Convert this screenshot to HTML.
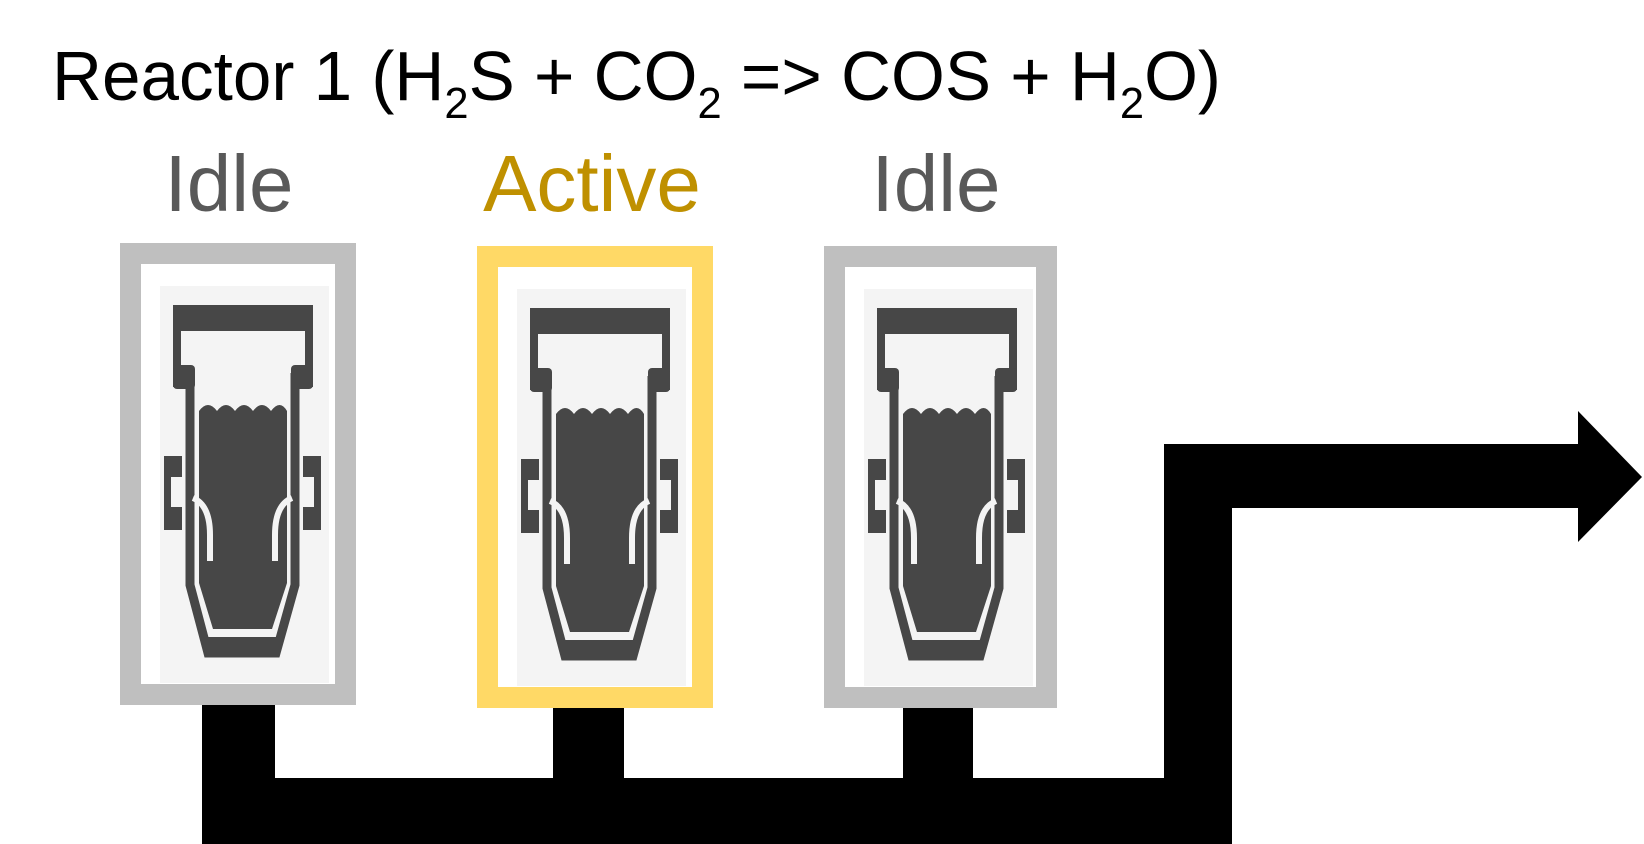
<!DOCTYPE html>
<html><head><meta charset="utf-8"><style>
html,body{margin:0;padding:0;background:#fff;width:1644px;height:844px;overflow:hidden}
svg{display:block}
text{font-family:"Liberation Sans",sans-serif}
</style></head><body>
<svg width="1644" height="844" viewBox="0 0 1644 844">
<defs>
<g id="icon">
  <rect x="40" y="43" width="169" height="397" fill="#f4f4f4"/>
  <rect x="53" y="62" width="140" height="26" rx="5" fill="#474747"/>
  <rect x="53" y="62" width="8" height="82" fill="#474747"/>
  <rect x="185" y="62" width="8" height="82" fill="#474747"/>
  <rect x="53" y="122" width="22" height="24" rx="4" fill="#474747"/>
  <rect x="171" y="122" width="22" height="24" rx="4" fill="#474747"/>
  <polyline points="70,130 70,342 88,410 156,410 175,342 175,130" fill="none" stroke="#474747" stroke-width="9"/>
  <rect x="85" y="394" width="74" height="20" fill="#474747"/>
  <path d="M79 168 Q88 156 97 168 Q106 156 115 168 Q124 156 133 168 Q142 156 151 168 Q160 156 167 168 L167 340 L152 386 L93 386 L79 340 Z" fill="#474747"/>
  <path d="M90 318 L90 292 Q90 262 73 255" fill="none" stroke="#f4f4f4" stroke-width="6"/>
  <path d="M155 318 L155 292 Q155 262 172 255" fill="none" stroke="#f4f4f4" stroke-width="6"/>
  <rect x="44" y="213" width="18" height="74" fill="#474747"/>
  <rect x="51" y="234" width="13" height="30" fill="#f4f4f4"/>
  <rect x="183" y="213" width="18" height="74" fill="#474747"/>
  <rect x="181" y="234" width="13" height="30" fill="#f4f4f4"/>
</g>
</defs>

<text x="52" y="100" font-size="70" fill="#000" textLength="1169" lengthAdjust="spacingAndGlyphs">Reactor 1 (H<tspan font-size="44" dy="18">2</tspan><tspan dy="-18">S + CO</tspan><tspan font-size="44" dy="18">2</tspan><tspan dy="-18"> =&gt; COS + H</tspan><tspan font-size="44" dy="18">2</tspan><tspan dy="-18">O)</tspan></text>

<text x="229" y="211" font-size="80" fill="#595959" text-anchor="middle">Idle</text>
<text x="592" y="211" font-size="80" fill="#BF9000" text-anchor="middle">Active</text>
<text x="936" y="211" font-size="80" fill="#595959" text-anchor="middle">Idle</text>

<g fill="#000">
  <rect x="202" y="700" width="73" height="144"/>
  <rect x="553" y="700" width="71" height="144"/>
  <rect x="903" y="700" width="70" height="144"/>
  <rect x="202" y="778" width="1030" height="66"/>
  <rect x="1164" y="444" width="68" height="400"/>
  <rect x="1164" y="444" width="416" height="64"/>
  <polygon points="1578,411 1642,477 1578,542"/>
</g>

<g transform="translate(120,243)">
  <rect x="10.5" y="10.5" width="215" height="441" fill="#fff" stroke="#BFBFBF" stroke-width="21"/>
  <use href="#icon"/>
</g>
<g transform="translate(477,246)">
  <rect x="10.5" y="10.5" width="215" height="441" fill="#fff" stroke="#FFD966" stroke-width="21"/>
  <use href="#icon"/>
</g>
<g transform="translate(824,246)">
  <rect x="10.5" y="10.5" width="212" height="441" fill="#fff" stroke="#BFBFBF" stroke-width="21"/>
  <use href="#icon"/>
</g>
</svg>
</body></html>
